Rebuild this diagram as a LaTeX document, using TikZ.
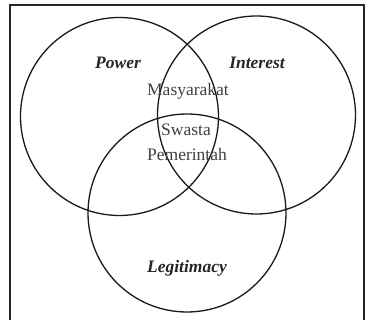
\documentclass[tikz,border=0pt]{standalone}
\usepackage{fontspec}
\setmainfont{Liberation Serif}
\begin{document}
\begin{tikzpicture}[x=1pt,y=-1pt,
  ring/.style={draw=black!90,line width=1.3pt,circle,minimum size=198pt,inner sep=0pt},
  dimlabel/.style={font=\fontsize{17.5}{20}\selectfont\bfseries\itshape,text=black!85,inner sep=0pt},
  actor/.style={font=\fontsize{17.5}{20}\selectfont,text=black!75,inner sep=0pt}]
  \useasboundingbox (0,0) rectangle (365,320);
  % outer frame, open at the bottom edge
  \draw[line width=2pt,black!85] (10,322) -- (10,5);
  \draw[line width=1.4pt,black!85] (9,5) -- (364,5) -- (364,322);
  % the three circles
  \node[ring] (power) at (119.5,116.5) {};
  \node[ring] (interest) at (256.5,115) {};
  \node[ring] (legit) at (187,213) {};
  % circle titles
  \node[dimlabel] (tpower) at (118,63) {Power};
  \node[dimlabel] (tinterest) at (257,63) {Interest};
  \node[dimlabel] (tlegit) at (187,268) {Legitimacy};
  % stakeholders in the overlaps
  \node[actor] (masy) at (188,91) {Masyarakat};
  \node[actor] (swasta) at (186,130) {Swasta};
  \node[actor] (pem) at (187,155) {Pemerintah};
\end{tikzpicture}
\end{document}
